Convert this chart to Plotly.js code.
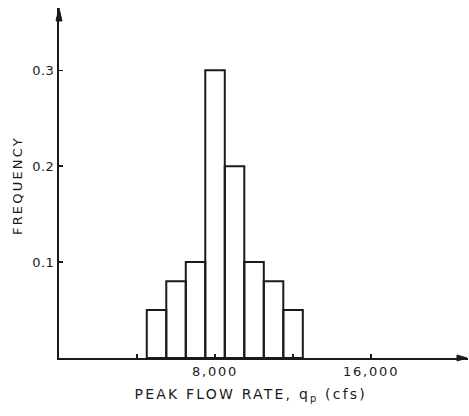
<!DOCTYPE html>
<html>
<head>
<meta charset="utf-8">
<script src="https://cdn.plot.ly/plotly-3.0.1.min.js"></script>
<style>
html,body{margin:0;padding:0;background:#fff;}
#chart{width:469px;height:416px;}
#chart .xtick text{letter-spacing:1.8px;}
#chart .ytick text{letter-spacing:0.5px;}
#chart .annotation-text{letter-spacing:2.2px;}
</style>
</head>
<body>
<div id="chart"></div>
<script>
// Data
var binCenters = [5000, 6000, 7000, 8000, 9000, 10000, 11000, 12000]; // cfs
var frequencies = [0.05, 0.08, 0.10, 0.30, 0.20, 0.10, 0.08, 0.05];
var binWidth = 1000;
var xTickVals = [8000, 16000];
var xTickText = ["8,000", "16,000"];
var xMinorTickVals = [4000, 12000];
var yTickVals = [0.1, 0.2, 0.3];
var yTickText = ["0.1", "0.2", "0.3"];
var xTitle = 'PEAK FLOW RATE, q<sub>p</sub> (cfs)';
var yTitle = 'FREQUENCY';

var ink = '#1a1a1a';
var fontFam = '"DejaVu Sans", sans-serif';

var trace = {
  type: 'bar',
  x: binCenters,
  y: frequencies,
  width: binCenters.map(function(){return binWidth;}),
  marker: {color: 'rgba(255,255,255,0)', line: {color: ink, width: 2}},
  hoverinfo: 'skip'
};

var layout = {
  width: 469, height: 416,
  margin: {l: 59, r: 1, t: 8, b: 58},
  paper_bgcolor: '#fff', plot_bgcolor: '#fff',
  showlegend: false,
  font: {family: fontFam, color: ink, size: 12},
  xaxis: {
    range: [0, 20970],
    showgrid: false, zeroline: false,
    showline: true, linecolor: ink, linewidth: 2,
    ticks: 'inside', ticklen: 4, tickwidth: 1.5, tickcolor: ink,
    tickvals: xTickVals, ticktext: xTickText,
    minor: {tickvals: xMinorTickVals, ticks: 'inside', ticklen: 4, tickwidth: 1.5, tickcolor: ink, showgrid: false},
    tickfont: {size: 13, family: fontFam, color: ink}
  },
  yaxis: {
    range: [0, 0.365],
    showgrid: false, zeroline: false,
    showline: true, linecolor: ink, linewidth: 2,
    ticks: 'inside', ticklen: 4, tickwidth: 1.5, tickcolor: ink,
    tickvals: yTickVals, ticktext: yTickText,
    tickfont: {size: 13, family: fontFam, color: ink}
  },
  shapes: [
    {type: 'path', xref: 'paper', yref: 'paper', xsizemode: 'pixel', ysizemode: 'pixel',
     xanchor: 0, yanchor: 1, path: 'M -3,-13 L 0,0 L 3,-13 Z',
     fillcolor: ink, line: {color: ink, width: 1}},
    {type: 'path', xref: 'paper', yref: 'paper', xsizemode: 'pixel', ysizemode: 'pixel',
     xanchor: 1, yanchor: 0, path: 'M -11,3 L -1,0 L -11,-3 Z',
     fillcolor: ink, line: {color: ink, width: 1}}
  ],
  annotations: [
    {xref: 'paper', yref: 'paper', x: 0.469, y: 0, yshift: -37, xanchor: 'center', yanchor: 'middle',
     text: xTitle, showarrow: false, font: {size: 14, family: fontFam, color: ink}},
    {xref: 'paper', yref: 'paper', x: 0, xshift: -42, y: 0.491, xanchor: 'center', yanchor: 'middle',
     textangle: -90, text: yTitle, showarrow: false, font: {size: 13, family: fontFam, color: ink}}
  ]
};

Plotly.newPlot('chart', [trace], layout, {displayModeBar: false, staticPlot: true});
</script>
</body>
</html>
